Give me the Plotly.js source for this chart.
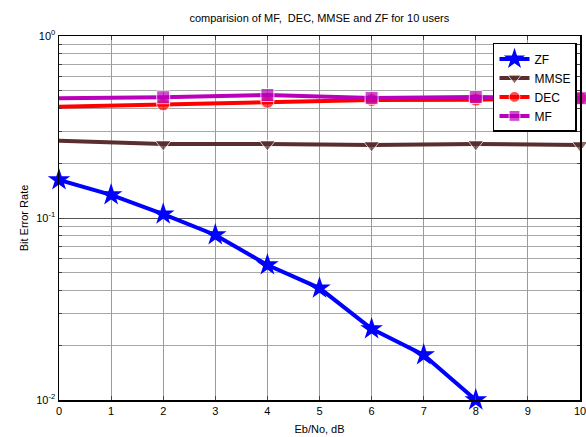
<!DOCTYPE html>
<html><head><meta charset="utf-8">
<script src="https://cdn.plot.ly/plotly-3.0.1.min.js"></script>
<style>html,body{margin:0;padding:0;background:#fff}#chart{width:586px;height:437px}</style>
</head><body><div id="chart"></div>
<script>
const snr = [0,1,2,3,4,5,6,7,8,9,10];
const snrEven = [0,2,4,6,8,10];
const zfX = [0,1,2,3,4,5,6,7,8];
const zf = [0.162,0.134,0.105,0.0807,0.0552,0.0412,0.0246,0.0177,0.0100];
const mmse = [0.266,0.255,0.255,0.252,0.255,0.252];
const dec = [0.409,0.421,0.435,0.445,0.447,0.456];
const mf = [0.455,0.461,0.474,0.457,0.462,0.455];
const seriesNames = ['ZF','MMSE','DEC','MF'];
const xTicks = snr;
const yTickVals = [0.01,0.1,1];
const yTickText = ['10<sup>-2</sup>','10<sup>-1</sup>','10<sup>0</sup>'];

const hideFirst = n => snrEven.map((v,i)=> i===0 ? 0 : n);
const traces = [
  {x: zfX, y: zf, name: seriesNames[0], mode:'lines+markers', cliponaxis:false,
   line:{color:'#0000ff', width:4}, marker:{symbol:'star', size:17, color:'#0000ff'}},
  {x: snrEven, y: mmse, name: seriesNames[1], mode:'lines+markers', cliponaxis:false,
   line:{color:'#5a2e2e', width:4}, marker:{symbol:'triangle-down', size:hideFirst(14), color:'#5a2e2e'}},
  {x: snrEven, y: dec, name: seriesNames[2], mode:'lines+markers', cliponaxis:false,
   line:{color:'#ff0000', width:4}, marker:{symbol:'circle', size:hideFirst(13), color:'#ff0000'}},
  {x: snrEven, y: mf, name: seriesNames[3], mode:'lines+markers', cliponaxis:false,
   line:{color:'#bb00bb', width:4}, marker:{symbol:'square', size:hideFirst(13), color:'#bb00bb'}}
];
const layout = {
  width:586, height:437,
  margin:{l:59, r:6, t:36, b:37, autoexpand:false},
  paper_bgcolor:'#fff', plot_bgcolor:'#fff',
  font:{family:'Liberation Sans, Arial, sans-serif', size:11, color:'#000'},
  title:{text:'comparision of MF,  DEC, MMSE and ZF for 10 users', font:{size:11}, x:0.545, xanchor:'center', y:0.958, yanchor:'middle'},
  showlegend:true,
  legend:{x:0.833, y:0.981, xanchor:'left', yanchor:'top', bgcolor:'#fff', bordercolor:'#000', borderwidth:1.5,
          font:{size:12}, traceorder:'normal', itemwidth:30, tracegroupgap:0},
  xaxis:{range:[0,10], tickvals:xTicks, ticks:'inside', ticklen:4, mirror:'ticks', showline:true, linecolor:'#000', linewidth:1.5,
         showgrid:true, gridcolor:'#9a9a9a', gridwidth:1, zeroline:false, automargin:false, ticklabeloverflow:'allow',
         title:{text:'Eb/No, dB', font:{size:11}, standoff:9}},
  yaxis:{type:'log', range:[-2,0], tickvals:yTickVals, ticktext:yTickText, ticks:'inside', ticklen:4, mirror:'ticks',
         showline:true, linecolor:'#000', linewidth:1.5, showgrid:true, gridcolor:'#555', gridwidth:1, zeroline:false, automargin:false,
         ticklabeloverflow:'allow',
         minor:{showgrid:true, gridcolor:'#a8a8a8', ticks:'inside', ticklen:3, dtick:'D1'},
         title:{text:'Bit Error Rate', font:{size:11}, standoff:5}}
};
Plotly.newPlot('chart', traces, layout, {displayModeBar:false, staticPlot:true});
</script></body></html>
